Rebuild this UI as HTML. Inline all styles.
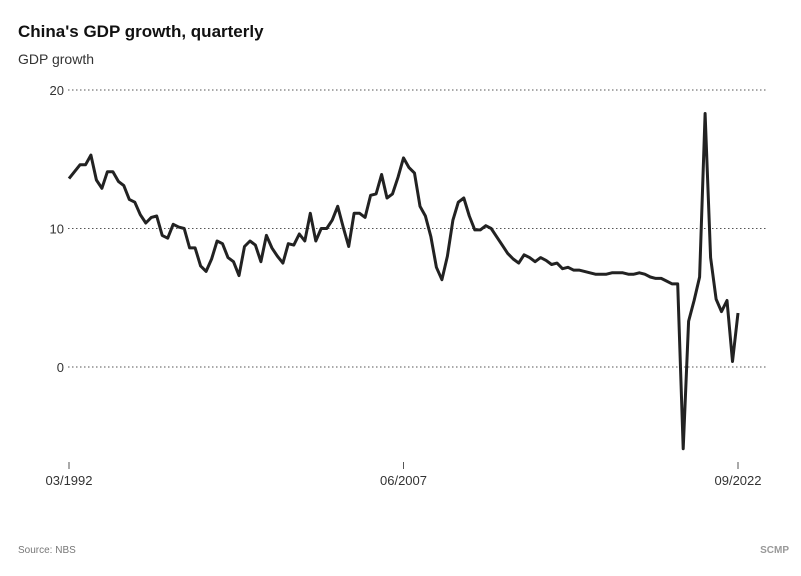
<!DOCTYPE html>
<html><head><meta charset="utf-8">
<style>
body{margin:0;background:#fff;font-family:"Liberation Sans",sans-serif;}
svg{display:block}
</style></head>
<body>
<svg width="801" height="576">
<text x="18" y="37" font-size="17" font-weight="bold" fill="#111">China's GDP growth, quarterly</text>
<text x="18" y="64" font-size="14" fill="#333">GDP growth</text>
<g id="grid"></g>
<g id="xaxis"></g>
<path id="line" fill="none" stroke="#222" stroke-width="3" stroke-linejoin="round"/>
<text x="18" y="553" font-size="10" fill="#777">Source: NBS</text>
<text x="789" y="553" font-size="10" font-weight="bold" fill="#999" text-anchor="end">SCMP</text>
</svg>
<script>
const values=[13.6,14.1,14.6,14.6,15.3,13.5,12.9,14.1,14.1,13.4,13.1,12.1,11.9,11.0,10.4,10.8,10.9,9.5,9.3,10.3,10.1,10.0,8.6,8.6,7.3,6.9,7.8,9.1,8.9,7.9,7.6,6.6,8.7,9.1,8.8,7.6,9.5,8.6,8.0,7.5,8.9,8.8,9.6,9.1,11.1,9.1,10.0,10.0,10.6,11.6,10.1,8.7,11.1,11.1,10.8,12.4,12.5,13.9,12.2,12.5,13.7,15.1,14.4,14.0,11.6,10.9,9.4,7.2,6.3,8.0,10.6,11.9,12.2,10.9,9.9,9.9,10.2,10.0,9.4,8.8,8.2,7.8,7.5,8.1,7.9,7.6,7.9,7.7,7.4,7.5,7.1,7.2,7.0,7.0,6.9,6.8,6.7,6.7,6.7,6.8,6.8,6.8,6.7,6.7,6.8,6.7,6.5,6.4,6.4,6.2,6.0,6.0,-5.9,3.3,4.8,6.5,18.3,7.9,4.9,4.0,4.8,0.4,3.9];
const yTicks=[0,10,20];
const xTickIdx=[0,61,122];
const xTickLabels=["03/1992","06/2007","09/2022"];
const X0=69,X1=738,Y0=367,PX=13.85;
const xs=i=>X0+(X1-X0)*i/(values.length-1);
const ys=v=>Y0-v*PX;
const NS="http://www.w3.org/2000/svg";
const grid=document.getElementById('grid'),xa=document.getElementById('xaxis');
yTicks.forEach(t=>{
 const l=document.createElementNS(NS,'line');
 l.setAttribute('x1',68);l.setAttribute('x2',768);l.setAttribute('y1',ys(t));l.setAttribute('y2',ys(t));
 l.setAttribute('stroke','#555');l.setAttribute('stroke-dasharray','1.5 2.5');
 
 
 grid.appendChild(l);
 const tx=document.createElementNS(NS,'text');
 tx.setAttribute('x',64);tx.setAttribute('y',ys(t)+5);tx.setAttribute('text-anchor','end');
 tx.setAttribute('font-size','13');tx.setAttribute('fill','#333');tx.textContent=t;
 
 
 grid.appendChild(tx);
});
xTickIdx.forEach((idx,k)=>{
 const x=xs(idx);
 const l=document.createElementNS(NS,'line');
 l.setAttribute('x1',x);l.setAttribute('x2',x);l.setAttribute('y1',462);l.setAttribute('y2',469);
 l.setAttribute('stroke','#555');
 
 
 xa.appendChild(l);
 const tx=document.createElementNS(NS,'text');
 tx.setAttribute('x',x);tx.setAttribute('y',485);tx.setAttribute('text-anchor','middle');
 tx.setAttribute('font-size','13');tx.setAttribute('fill','#333');tx.textContent=xTickLabels[k];
 
 
 xa.appendChild(tx);
});
document.getElementById('line').setAttribute('d',values.map((v,i)=>(i?'L':'M')+xs(i).toFixed(1)+','+ys(v).toFixed(1)).join(''));
</script>
</body></html>
